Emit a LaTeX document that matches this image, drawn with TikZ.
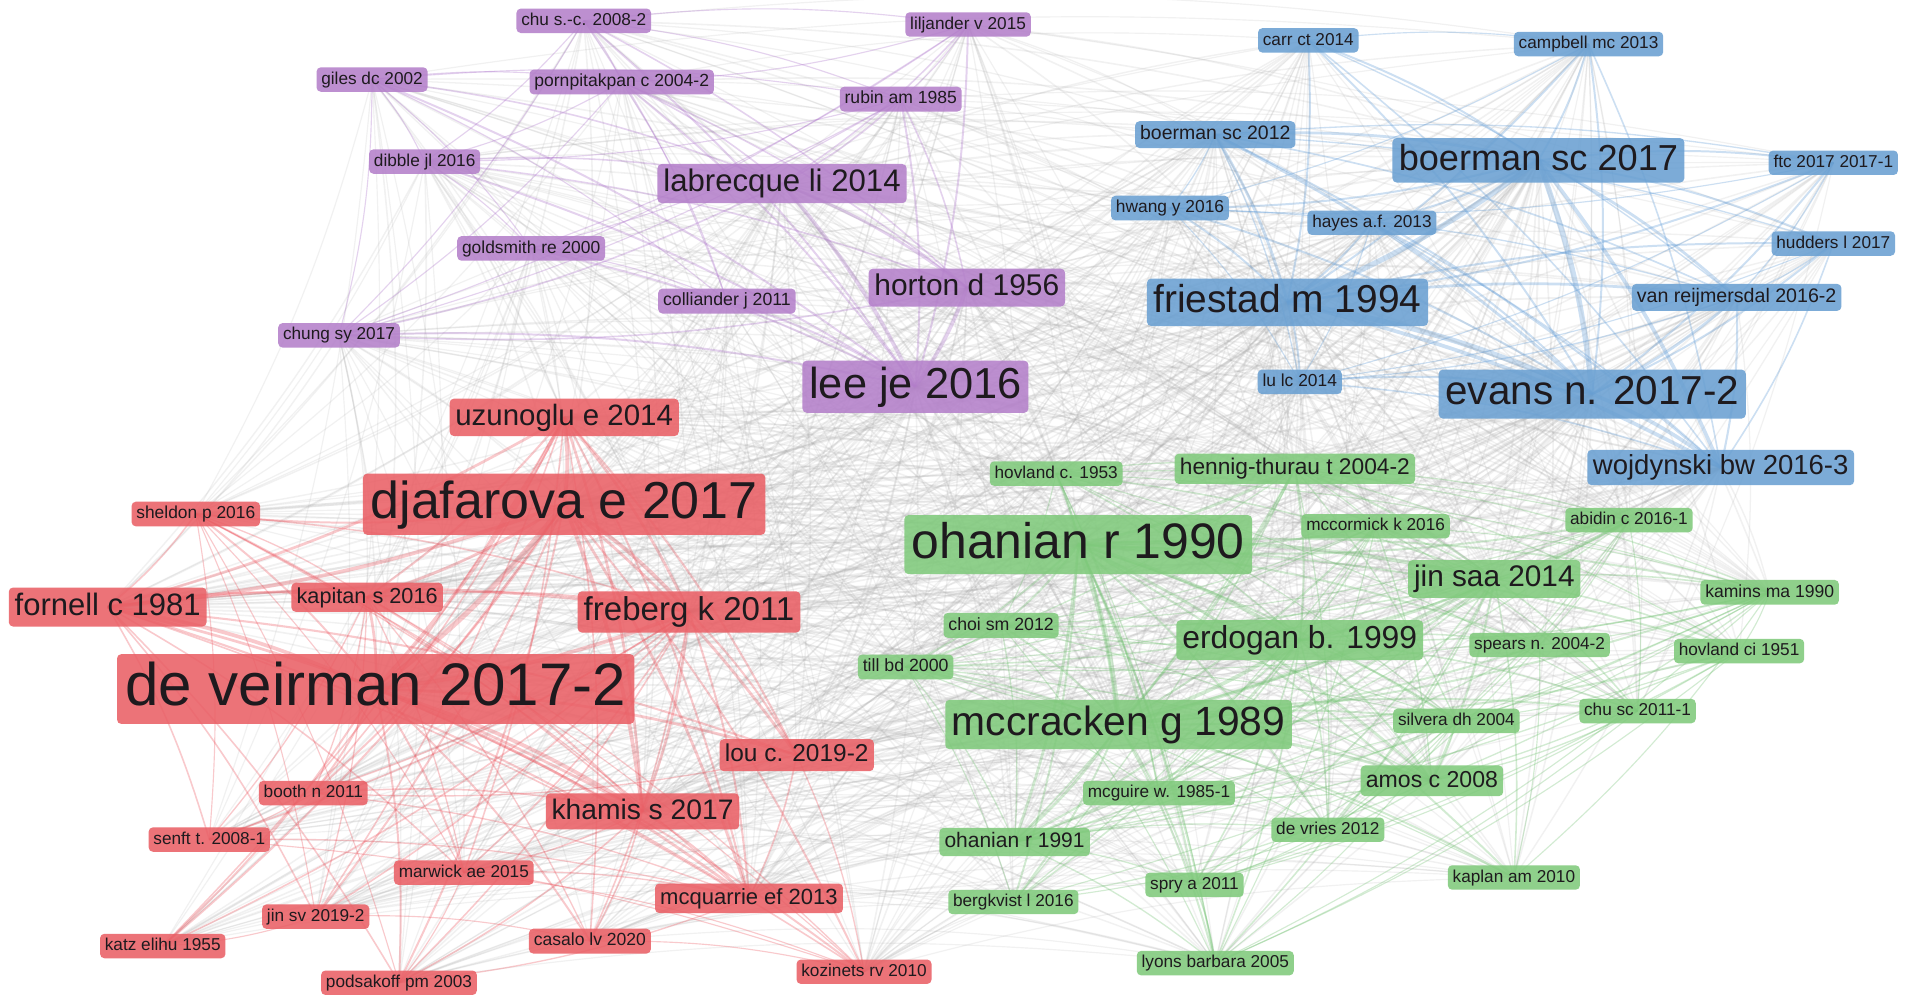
\documentclass[tikz,border=0pt]{standalone}
\usepackage{fontspec}
\setmainfont{Liberation Sans}
\pgfdeclarelayer{bg}
\pgfdeclarelayer{mid}
\pgfsetlayers{bg,mid,main}
\definecolor{npurple}{RGB}{180,128,202}
\definecolor{nblue}{RGB}{106,160,210}
\definecolor{nred}{RGB}{234,96,102}
\definecolor{ngreen}{RGB}{128,202,124}
\definecolor{txt}{RGB}{30,26,30}
\definecolor{cl1}{RGB}{168,108,200}
\definecolor{cl2}{RGB}{88,150,212}
\definecolor{cl3}{RGB}{236,78,88}
\definecolor{cl4}{RGB}{108,190,108}
\definecolor{edgegray}{RGB}{168,168,168}
\tikzset{
  nd/.style={rounded corners=2.5pt, text=txt, fill opacity=.88, text opacity=1},
  fs/.style={font=\fontsize{#1}{#1}\selectfont,
    inner xsep={0.08*#1*1pt+2pt}, inner ysep={0.06*#1*1pt+1.8pt},
    text height={0.74*#1*1pt}, text depth={0.2*#1*1pt}},
  pu/.style={nd, fill=npurple},
  bl/.style={nd, fill=nblue},
  rd/.style={nd, fill=nred},
  gr/.style={nd, fill=ngreen},
  link/.style={bend left=7}
}
\def\nodelist{chusc08/.5/1, liljander/.5/1, giles/.5/1, pornpitakpan/.5/1, rubin/.5/1, dibble/.5/1, labrecque/.8/1, goldsmith/.5/1, horton/.8/1, colliander/.5/1, chungsy/.5/1, leeje/1/1,
carr/.5/2, campbell/.5/2, boerman12/.65/2, boerman17/1/2, ftc/.5/2, hwang/.5/2, hayes/.5/2, friestad/1/2, hudders/.5/2, vanreij/.65/2, lulc/.5/2, evans/1/2, wojdynski/.8/2,
uzunoglu/.8/3, djafarova/1/3, sheldon/.5/3, fornell/.8/3, kapitan/.65/3, freberg/.8/3, deveirman/1/3, lou/.65/3, booth/.5/3, khamis/.8/3, senft/.5/3, marwick/.5/3, mcquarrie/.65/3, jinsv/.5/3, casalo/.5/3, katz/.5/3, podsakoff/.5/3, kozinets/.5/3,
hovland53/.5/4, hennig/.65/4, mccormick/.5/4, abidin/.5/4, ohanian90/1/4, jinsaa/.8/4, kamins/.5/4, erdogan/.8/4, spears/.5/4, hovland51/.5/4, choi/.5/4, till/.5/4, mccracken/1/4, silvera/.5/4, chusc11/.5/4, amos/.65/4, mcguire/.5/4, ohanian91/.65/4, devries/.5/4, kaplan/.5/4, spry/.5/4, bergkvist/.5/4, lyons/.5/4}
% one pass over all pairs; #1 = 0 draws links between clusters, 1 draws links inside a cluster
\newcommand\linkpass[1]{%
  \pgfmathsetseed{4242}%
  \foreach \a/\wa/\ca [count=\i] in \nodelist {
    \foreach \b/\wb/\cb [count=\j] in \nodelist {
      \ifnum\j>\i
        \ifnum\ca=\cb
          \pgfmathsetmacro{\pp}{1.7*\wa*\wb}
        \else
          \pgfmathsetmacro{\pp}{1.45*\wa*\wb}
        \fi
        \pgfmathsetmacro{\rr}{rnd}
        \ifdim\rr pt<\pp pt
          \ifnum\ca=\cb
            \ifnum#1=1
              \pgfmathsetmacro{\lw}{0.5+2.6*\wa*\wb*\wa*\wb}
              \draw[link, line width=\lw pt, draw=cl\ca, opacity=0.3] (\a.center) to (\b.center);
            \fi
          \else
            \ifnum#1=0
              \pgfmathsetmacro{\lw}{0.45+0.9*\wa*\wb}
              \draw[link, line width=\lw pt, draw=edgegray, opacity=0.16] (\a.center) to (\b.center);
            \fi
          \fi
        \fi
      \fi
    }
  }%
}
\begin{document}
\begin{tikzpicture}[x=0.025cm, y=-0.025cm]
\useasboundingbox (0,0) rectangle (1568,813);
% purple cluster
\node[pu, fs=10] (chusc08) at (477,17) {chu s.-c. 2008-2};
\node[pu, fs=10] (liljander) at (791,20) {liljander v 2015};
\node[pu, fs=10] (giles) at (304,65) {giles dc 2002};
\node[pu, fs=10.2] (pornpitakpan) at (508,67) {pornpitakpan c 2004-2};
\node[pu, fs=10.2] (rubin) at (736,81) {rubin am 1985};
\node[pu, fs=10] (dibble) at (347,132) {dibble jl 2016};
\node[pu, fs=18.1] (labrecque) at (639,150) {labrecque li 2014};
\node[pu, fs=10.1] (goldsmith) at (434,203) {goldsmith re 2000};
\node[pu, fs=17.4] (horton) at (790,235) {horton d 1956};
\node[pu, fs=10.3] (colliander) at (594,246) {colliander j 2011};
\node[pu, fs=10] (chungsy) at (277,274) {chung sy 2017};
\node[pu, fs=25.2] (leeje) at (748,316) {lee je 2016};
% blue cluster
\node[bl, fs=10] (carr) at (1069,33) {carr ct 2014};
\node[bl, fs=10] (campbell) at (1298,36) {campbell mc 2013};
\node[bl, fs=11.3] (boerman12) at (993,110) {boerman sc 2012};
\node[bl, fs=21] (boerman17) at (1257,131) {boerman sc 2017};
\node[bl, fs=10] (ftc) at (1498,133) {ftc 2017 2017-1};
\node[bl, fs=10.1] (hwang) at (956,170) {hwang y 2016};
\node[bl, fs=10] (hayes) at (1121,182) {hayes a.f. 2013};
\node[bl, fs=22.6] (friestad) at (1052,247) {friestad m 1994};
\node[bl, fs=10] (hudders) at (1498,199) {hudders l 2017};
\node[bl, fs=11.4] (vanreij) at (1419,243) {van reijmersdal 2016-2};
\node[bl, fs=10.1] (lulc) at (1062,312) {lu lc 2014};
\node[bl, fs=23.5] (evans) at (1301,322) {evans n. 2017-2};
\node[bl, fs=16] (wojdynski) at (1406,382) {wojdynski bw 2016-3};
% red cluster
\node[rd, fs=17.1] (uzunoglu) at (461,341) {uzunoglu e 2014};
\node[rd, fs=30.2] (djafarova) at (461,412) {djafarova e 2017};
\node[rd, fs=10.1] (sheldon) at (160,420) {sheldon p 2016};
\node[rd, fs=18] (fornell) at (88,496) {fornell c 1981};
\node[rd, fs=12.6] (kapitan) at (300,488) {kapitan s 2016};
\node[rd, fs=19.2] (freberg) at (563,500) {freberg k 2011};
\node[rd, fs=34.9] (deveirman) at (307,563) {de veirman 2017-2};
\node[rd, fs=14.2] (lou) at (651,617) {lou c. 2019-2};
\node[rd, fs=10] (booth) at (256,648) {booth n 2011};
\node[rd, fs=16.4] (khamis) at (525,663) {khamis s 2017};
\node[rd, fs=10] (senft) at (171,686) {senft t. 2008-1};
\node[rd, fs=10] (marwick) at (379,713) {marwick ae 2015};
\node[rd, fs=12.8] (mcquarrie) at (612,734) {mcquarrie ef 2013};
\node[rd, fs=10] (jinsv) at (258,749) {jin sv 2019-2};
\node[rd, fs=10.2] (casalo) at (482,769) {casalo lv 2020};
\node[rd, fs=10] (katz) at (133,773) {katz elihu 1955};
\node[rd, fs=10] (podsakoff) at (326,803) {podsakoff pm 2003};
\node[rd, fs=10] (kozinets) at (706,794) {kozinets rv 2010};
% green cluster
\node[gr, fs=10] (hovland53) at (863,387) {hovland c. 1953};
\node[gr, fs=13.2] (hennig) at (1058,383) {hennig-thurau t 2004-2};
\node[gr, fs=10] (mccormick) at (1124,430) {mccormick k 2016};
\node[gr, fs=10] (abidin) at (1331,425) {abidin c 2016-1};
\node[gr, fs=29] (ohanian90) at (881,445) {ohanian r 1990};
\node[gr, fs=17.3] (jinsaa) at (1221,473) {jin saa 2014};
\node[gr, fs=10.2] (kamins) at (1446,484) {kamins ma 1990};
\node[gr, fs=18.5] (erdogan) at (1062,523) {erdogan b. 1999};
\node[gr, fs=10] (spears) at (1258,527) {spears n. 2004-2};
\node[gr, fs=10] (hovland51) at (1421,532) {hovland ci 1951};
\node[gr, fs=10.3] (choi) at (818,511) {choi sm 2012};
\node[gr, fs=10.3] (till) at (740,545) {till bd 2000};
\node[gr, fs=23.7] (mccracken) at (914,592) {mccracken g 1989};
\node[gr, fs=10] (silvera) at (1190,589) {silvera dh 2004};
\node[gr, fs=10] (chusc11) at (1338,581) {chu sc 2011-1};
\node[gr, fs=13.4] (amos) at (1170,638) {amos c 2008};
\node[gr, fs=10] (mcguire) at (947,648) {mcguire w. 1985-1};
\node[gr, fs=12.2] (ohanian91) at (829,688) {ohanian r 1991};
\node[gr, fs=10] (devries) at (1085,678) {de vries 2012};
\node[gr, fs=10] (kaplan) at (1237,717) {kaplan am 2010};
\node[gr, fs=10] (spry) at (976,723) {spry a 2011};
\node[gr, fs=10] (bergkvist) at (828,737) {bergkvist l 2016};
\node[gr, fs=10] (lyons) at (993,787) {lyons barbara 2005};
% connectors
\begin{pgfonlayer}{bg}
\fill[white] (0,0) rectangle (1568,813);
\linkpass{0}
\end{pgfonlayer}
\begin{pgfonlayer}{mid}
\linkpass{1}
\end{pgfonlayer}
\end{tikzpicture}
\end{document}
